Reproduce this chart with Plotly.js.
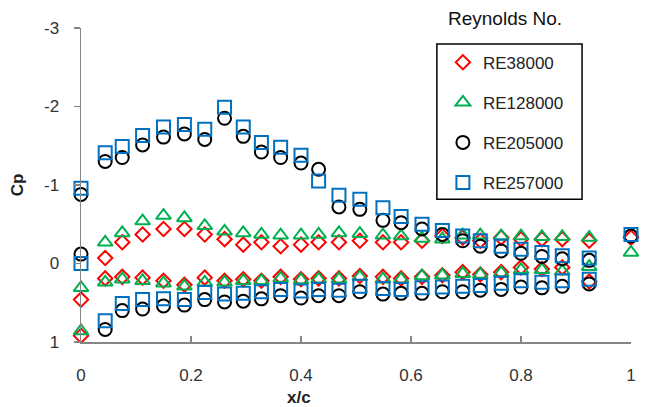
<!DOCTYPE html>
<html>
<head>
<meta charset="utf-8">
<script src="https://cdn.plot.ly/plotly-3.0.1.min.js"></script>
<style>
  html, body { margin: 0; padding: 0; background: #ffffff; }
  #chart { width: 646px; height: 407px; }
</style>
</head>
<body>
<div id="chart"></div>
<script>
// ---- Data ----
var xUpper = [0, 0.044, 0.075, 0.112, 0.15, 0.188, 0.225, 0.261, 0.295, 0.328, 0.363, 0.4, 0.432, 0.469, 0.507, 0.549, 0.582, 0.62, 0.657, 0.694, 0.726, 0.764, 0.8, 0.838, 0.875, 0.924, 1.0];
var xLower = [0, 0.044, 0.075, 0.112, 0.15, 0.188, 0.225, 0.261, 0.295, 0.328, 0.363, 0.4, 0.432, 0.469, 0.507, 0.549, 0.582, 0.62, 0.657, 0.694, 0.726, 0.764, 0.8, 0.838, 0.875, 0.924];

var re38000Upper = [0.46, -0.07, -0.27, -0.37, -0.44, -0.44, -0.37, -0.31, -0.24, -0.27, -0.22, -0.24, -0.27, -0.27, -0.29, -0.27, -0.27, -0.29, -0.35, -0.33, -0.29, -0.33, -0.31, -0.31, -0.31, -0.29, -0.33];
var re38000Lower = [0.92, 0.19, 0.17, 0.18, 0.22, 0.27, 0.18, 0.22, 0.20, 0.22, 0.17, 0.20, 0.19, 0.19, 0.16, 0.17, 0.19, 0.17, 0.15, 0.11, 0.14, 0.11, 0.05, 0.07, 0.05, 0.23];

var re128000Upper = [0.31, -0.27, -0.39, -0.54, -0.61, -0.58, -0.48, -0.41, -0.39, -0.37, -0.36, -0.36, -0.37, -0.39, -0.38, -0.36, -0.35, -0.32, -0.31, -0.36, -0.36, -0.35, -0.35, -0.34, -0.34, -0.33, -0.14];
var re128000Lower = [0.86, 0.24, 0.20, 0.22, 0.25, 0.29, 0.24, 0.24, 0.22, 0.22, 0.19, 0.21, 0.20, 0.20, 0.17, 0.20, 0.20, 0.16, 0.15, 0.13, 0.14, 0.12, 0.08, 0.08, 0.10, 0.04];

var re205000Upper = [-0.88, -1.30, -1.35, -1.51, -1.61, -1.65, -1.58, -1.85, -1.62, -1.42, -1.35, -1.28, -1.20, -0.72, -0.69, -0.55, -0.52, -0.44, -0.37, -0.29, -0.22, -0.16, -0.13, -0.09, -0.06, -0.04, -0.35];
var re205000Lower = [-0.12, 0.84, 0.60, 0.58, 0.54, 0.53, 0.46, 0.49, 0.48, 0.45, 0.41, 0.44, 0.41, 0.41, 0.36, 0.39, 0.38, 0.38, 0.36, 0.36, 0.34, 0.33, 0.30, 0.31, 0.29, 0.26];

var re257000Upper = [-0.96, -1.41, -1.49, -1.63, -1.74, -1.77, -1.71, -1.99, -1.74, -1.54, -1.48, -1.38, -1.05, -0.87, -0.82, -0.71, -0.60, -0.50, -0.42, -0.35, -0.29, -0.22, -0.18, -0.14, -0.10, -0.07, -0.37];
var re257000Lower = [0.0, 0.73, 0.51, 0.46, 0.45, 0.46, 0.37, 0.39, 0.38, 0.36, 0.33, 0.35, 0.33, 0.34, 0.29, 0.32, 0.33, 0.31, 0.30, 0.29, 0.28, 0.25, 0.22, 0.24, 0.22, 0.20];

var seriesNames = ["RE38000", "RE128000", "RE205000", "RE257000"];
var xTickVals = [0, 0.2, 0.4, 0.6, 0.8, 1];
var xTickText = ["0", "0.2", "0.4", "0.6", "0.8", "1"];
var yTickVals = [-3, -2, -1, 0, 1];
var yTickText = ["-3", "-2", "-1", "0", "1"];

// ---- Styling ----
var FONT = "Liberation Sans, Arial, sans-serif";
var styles = [
  {symbol: "diamond-open", color: "#ff0000", size: 11},
  {symbol: "triangle-up-open", color: "#00b050", size: 13},
  {symbol: "circle-open", color: "#000000", size: 13},
  {symbol: "square-open", color: "#0070c0", size: 13}
];
var uppers = [re38000Upper, re128000Upper, re205000Upper, re257000Upper];
var lowers = [re38000Lower, re128000Lower, re205000Lower, re257000Lower];

var traces = seriesNames.map(function (name, i) {
  return {
    type: "scatter",
    mode: "markers",
    name: name,
    legendgroup: name,
    x: xUpper.concat(xLower),
    y: uppers[i].concat(lowers[i]),
    cliponaxis: false,
    marker: {
      symbol: styles[i].symbol,
      size: styles[i].size,
      color: styles[i].color,
      line: {color: styles[i].color, width: 2}
    }
  };
});

var axisColor = "#868686";
var layout = {
  width: 646,
  height: 407,
  margin: {l: 81, r: 15, t: 28, b: 65},
  paper_bgcolor: "#ffffff",
  plot_bgcolor: "#ffffff",
  font: {family: FONT, size: 15, color: "#333333"},
  showlegend: true,
  legend: {
    x: 0.658, xanchor: "left",
    y: 0.947, yanchor: "top",
    bgcolor: "rgba(0,0,0,0)",
    borderwidth: 0,
    traceorder: "grouped",
    tracegroupgap: 15,
    font: {family: FONT, size: 17, color: "#222222"}
  },
  xaxis: {
    range: [0, 1],
    showgrid: false,
    zeroline: false,
    showline: true,
    linecolor: axisColor,
    linewidth: 1.5,
    ticks: "inside",
    ticklen: 6,
    tickwidth: 1.5,
    tickcolor: axisColor,
    tickvals: xTickVals,
    ticktext: xTickText,
    ticklabelstandoff: 17,
    tickfont: {family: FONT, size: 17, color: "#333333"}
  },
  yaxis: {
    range: [1, -3],
    showgrid: false,
    zeroline: false,
    showline: true,
    linecolor: axisColor,
    linewidth: 1.5,
    ticks: "outside",
    ticklen: 6,
    tickwidth: 1.5,
    tickcolor: axisColor,
    tickvals: yTickVals,
    ticktext: yTickText,
    ticklabelstandoff: 11,
    tickfont: {family: FONT, size: 17, color: "#333333"},
    title: {text: "<b>Cp</b>", font: {family: FONT, size: 17, color: "#222222"}, standoff: 16}
  },
  shapes: [
    {type: "rect", xref: "paper", yref: "paper",
     x0: 0.647, x1: 0.911, y0: 0.455, y1: 0.949,
     line: {color: "#000000", width: 1.5}, fillcolor: "rgba(0,0,0,0)"}
  ],
  annotations: [
    {text: "Reynolds No.", xref: "paper", yref: "paper", x: 0.771, y: 1.029,
     xanchor: "center", yanchor: "middle", showarrow: false,
     font: {family: FONT, size: 19, color: "#111111"}},
    {text: "<b>x/c</b>", xref: "paper", yref: "paper", x: 0.396, y: -0.178,
     xanchor: "center", yanchor: "middle", showarrow: false,
     font: {family: FONT, size: 17, color: "#222222"}}
  ]
};

Plotly.newPlot("chart", traces, layout, {displayModeBar: false, staticPlot: true});
</script>
</body>
</html>
